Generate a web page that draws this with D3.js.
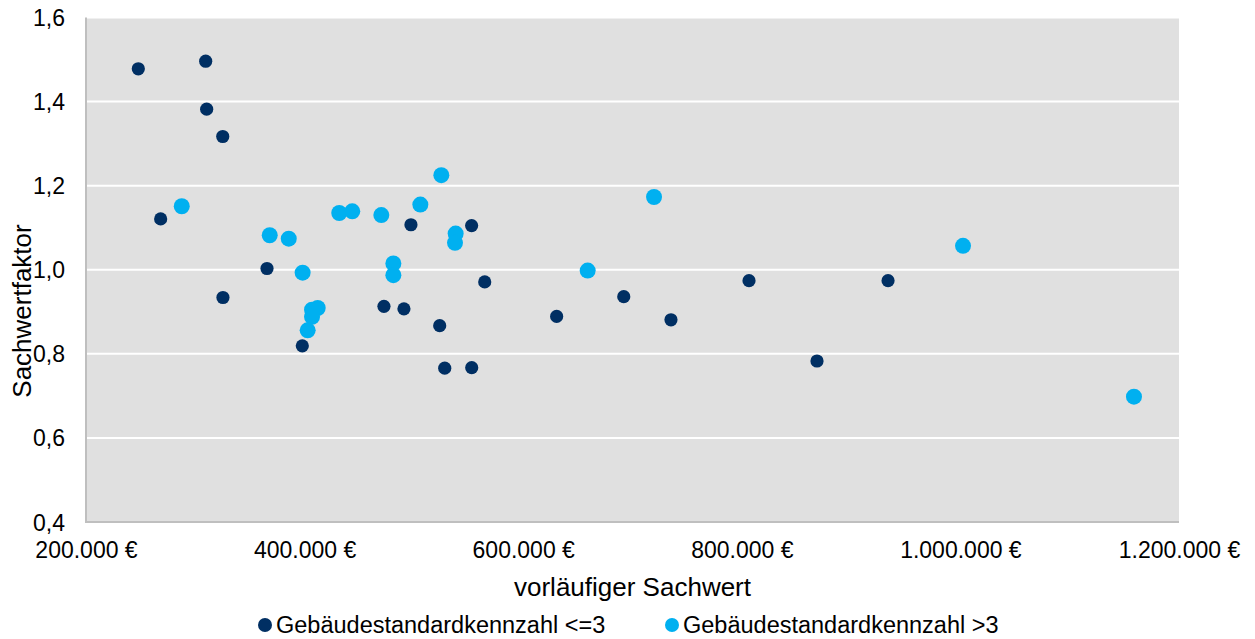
<!DOCTYPE html>
<html>
<head>
<meta charset="utf-8">
<script src="https://cdn.jsdelivr.net/npm/d3@7/dist/d3.min.js"></script>
<style>
html,body{margin:0;padding:0;background:#fff;}
svg{display:block;font-family:"Liberation Sans",Arial,sans-serif;}
</style>
</head>
<body>
<svg id="chart" width="1255" height="639"></svg>
<script>
// Series: Gebäudestandardkennzahl <=3 (dark)
const lowX = [247850, 309500, 310400, 325100, 268300, 365600, 325300, 397900, 497300, 552800, 564800, 472600, 490900, 523600, 528200, 552900, 630600, 692000, 735200, 806600, 868800, 933800];
const lowY = [1.478, 1.496, 1.382, 1.317, 1.121, 1.003, 0.934, 0.819, 1.107, 1.105, 0.971, 0.913, 0.907, 0.867, 0.766, 0.767, 0.889, 0.936, 0.881, 0.974, 0.783, 0.974];
// Series: Gebäudestandardkennzahl >3 (light)
const highX = [287600, 368100, 385500, 398200, 412000, 406800, 406800, 402800, 431700, 443600, 470200, 505900, 525100, 538200, 537600, 481200, 481200, 659000, 719700, 1002400, 1158800];
const highY = [1.151, 1.082, 1.074, 0.993, 0.909, 0.905, 0.888, 0.856, 1.135, 1.139, 1.130, 1.155, 1.225, 1.086, 1.064, 1.015, 0.987, 0.998, 1.173, 1.057, 0.698];

const xTicks = [200000, 400000, 600000, 800000, 1000000, 1200000];
const yTicks = [0.4, 0.6, 0.8, 1.0, 1.2, 1.4, 1.6];
const seriesNames = ["Gebäudestandardkennzahl <=3", "Gebäudestandardkennzahl >3"];
const xTitle = "vorläufiger Sachwert";
const yTitle = "Sachwertfaktor";

const colors = ["#002F63", "#00B0F0"];
const radii = [6.6, 8];

const de = d3.formatLocale({decimal: ",", thousands: ".", grouping: [3], currency: ["", " €"]});
const fmtX = d => de.format(",.0f")(d) + " €";
const fmtY = de.format(".1f");

const svg = d3.select("#chart");
const L = 86, R = 1179, T = 17.5, B = 522;

const x = d3.scaleLinear().domain([200000, 1200000]).range([L, R]);
const y = d3.scaleLinear().domain([0.4, 1.6]).range([B, T]);

// plot background
svg.append("rect").attr("x", L).attr("y", T).attr("width", R - L).attr("height", B - T).attr("fill", "#E0E0E0");

// gridlines
svg.append("g").selectAll("line").data(yTicks.filter(d => d > 0.4)).join("line")
  .attr("x1", L).attr("x2", R).attr("y1", d => y(d)).attr("y2", d => y(d))
  .attr("stroke", "#fff").attr("stroke-width", 2);

// axis lines
svg.append("line").attr("x1", L).attr("x2", L).attr("y1", T).attr("y2", B).attr("stroke", "#BFBFBF").attr("stroke-width", 2);
svg.append("line").attr("x1", L - 1).attr("x2", R).attr("y1", B).attr("y2", B).attr("stroke", "#BFBFBF").attr("stroke-width", 2);

// x axis labels
const xAxis = d3.axisBottom(x).tickValues(xTicks).tickFormat(fmtX).tickSize(0).tickPadding(0);
const gx = svg.append("g").attr("transform", `translate(0,${B})`).call(xAxis);
gx.select(".domain").remove();
gx.selectAll("text").attr("font-size", 23).attr("fill", "#000").attr("dy", null).attr("y", 36)
  .attr("font-family", "Liberation Sans, Arial, sans-serif");

// y axis labels
const yAxis = d3.axisLeft(y).tickValues(yTicks).tickFormat(fmtY).tickSize(0).tickPadding(0);
const gy = svg.append("g").attr("transform", `translate(65,0)`).call(yAxis);
gy.select(".domain").remove();
gy.selectAll("text").attr("font-size", 23).attr("fill", "#000").attr("x", 0).attr("dy", "0.35em")
  .attr("font-family", "Liberation Sans, Arial, sans-serif");

// points
const lowData = lowX.map((v, i) => ({x: v, y: lowY[i]}));
const highData = highX.map((v, i) => ({x: v, y: highY[i]}));
svg.append("g").selectAll("circle").data(lowData).join("circle")
  .attr("cx", d => x(d.x)).attr("cy", d => y(d.y)).attr("r", radii[0]).attr("fill", colors[0]);
svg.append("g").selectAll("circle").data(highData).join("circle")
  .attr("cx", d => x(d.x)).attr("cy", d => y(d.y)).attr("r", radii[1]).attr("fill", colors[1]);

// axis titles
svg.append("text").attr("x", (L + R) / 2).attr("y", 596).attr("text-anchor", "middle")
  .attr("font-size", 26).attr("fill", "#000").text(xTitle);
svg.append("text").attr("transform", "translate(31,311) rotate(-90)").attr("text-anchor", "middle")
  .attr("font-size", 26).attr("fill", "#000").text(yTitle);

// legend
const legendItems = [{x: 265, tx: 276}, {x: 672, tx: 683}];
const lg = svg.append("g");
legendItems.forEach((it, i) => {
  lg.append("circle").attr("cx", it.x).attr("cy", 625).attr("r", 7).attr("fill", colors[i]);
  lg.append("text").attr("x", it.tx).attr("y", 633).attr("font-size", 23.5).attr("fill", "#000").text(seriesNames[i]);
});
</script>
</body>
</html>
